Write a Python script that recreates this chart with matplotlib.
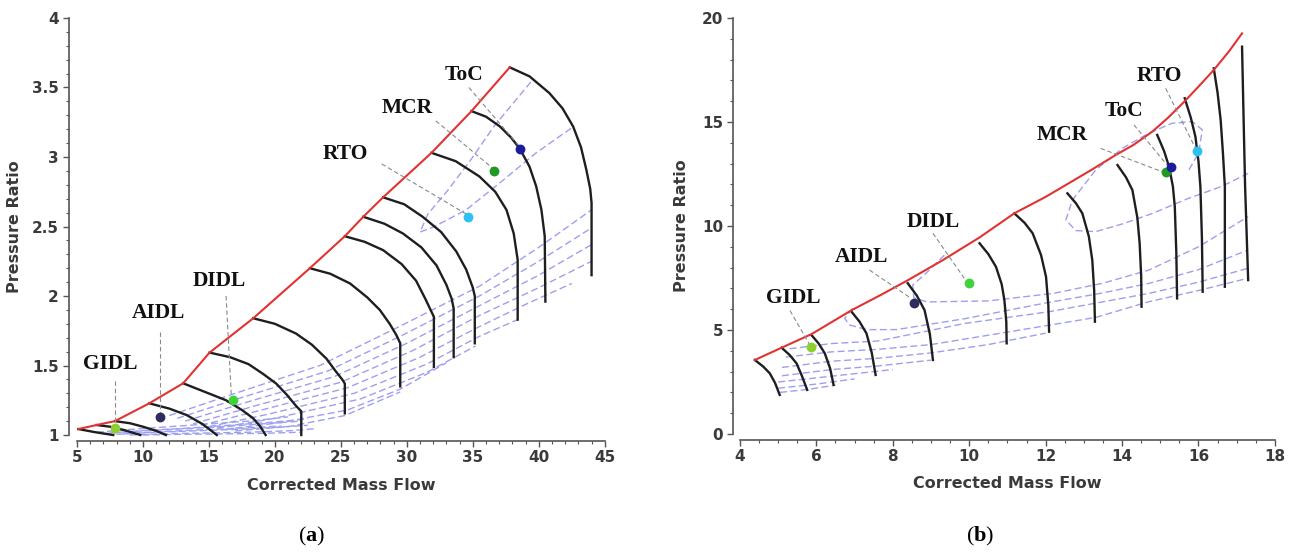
import matplotlib.pyplot as plt
from matplotlib.ticker import MultipleLocator

plt.rcParams['font.family'] = 'DejaVu Sans'
plt.rcParams['mathtext.fontset'] = 'custom'
plt.rcParams['mathtext.rm'] = 'Liberation Serif'
plt.rcParams['mathtext.bf'] = 'Liberation Serif:bold'

# ---------------- panel (a) ----------------
a_surge_x = [5.1, 6.49, 7.88, 10.48, 13.05, 15.05, 18.36, 22.65, 25.3, 26.7, 28.2, 31.87, 34.9, 37.8]
a_surge_y = [1.043, 1.072, 1.10, 1.228, 1.372, 1.593, 1.84, 2.20, 2.43, 2.57, 2.71, 3.03, 3.33, 3.645]

a_speed_x = [
    [5.1, 6.4, 7.75],
    [6.49, 7.5, 8.6, 9.8],
    [7.88, 9.0, 10.0, 11.0, 11.74],
    [10.48, 12.0, 13.3, 14.5, 15.6],
    [13.05, 14.7, 16.3, 17.5, 18.36, 18.9, 19.3],
    [15.05, 16.6, 18.0, 19.1, 20.1, 20.9, 21.6, 22.0, 22.0],
    [18.36, 20.0, 21.6, 22.8, 23.9, 24.6, 25.1, 25.3, 25.3],
    [22.65, 24.2, 25.7, 27.0, 27.95, 28.7, 29.2, 29.5, 29.5],
    [25.3, 26.8, 28.2, 29.6, 30.7, 31.4, 31.9, 32.05, 32.05],
    [26.7, 28.3, 29.7, 31.1, 32.25, 33.0, 33.4, 33.55, 33.55],
    [28.2, 29.8, 31.2, 32.6, 33.75, 34.5, 35.0, 35.15, 35.15],
    [31.87, 33.7, 35.5, 36.7, 37.55, 38.1, 38.4, 38.4],
    [34.9, 36.0, 37.05, 37.9, 38.56, 39.3, 39.8, 40.2, 40.45, 40.5],
    [37.8, 39.3, 40.8, 41.8, 42.6, 43.2, 43.6, 43.9, 44.0, 44.0],
]
a_speed_y = [
    [1.043, 1.02, 1.0],
    [1.072, 1.06, 1.035, 1.0],
    [1.10, 1.085, 1.06, 1.03, 1.0],
    [1.228, 1.19, 1.144, 1.08, 1.0],
    [1.372, 1.31, 1.25, 1.18, 1.12, 1.06, 1.0],
    [1.593, 1.56, 1.51, 1.44, 1.37, 1.29, 1.21, 1.17, 1.0],
    [1.84, 1.80, 1.73, 1.65, 1.55, 1.46, 1.40, 1.37, 1.156],
    [2.20, 2.16, 2.09, 1.99, 1.90, 1.80, 1.72, 1.66, 1.35],
    [2.43, 2.39, 2.33, 2.23, 2.11, 1.98, 1.88, 1.85, 1.49],
    [2.57, 2.52, 2.45, 2.35, 2.22, 2.08, 1.98, 1.91, 1.56],
    [2.71, 2.66, 2.57, 2.46, 2.32, 2.19, 2.06, 2.0, 1.66],
    [3.03, 2.97, 2.86, 2.75, 2.62, 2.45, 2.26, 1.83],
    [3.33, 3.29, 3.22, 3.14, 3.06, 2.93, 2.79, 2.62, 2.43, 1.96],
    [3.645, 3.58, 3.46, 3.35, 3.22, 3.07, 2.91, 2.77, 2.67, 2.15],
]

a_eff_x = [
    [39.4, 36.6, 34.85, 33.1, 31.6, 31.0, 32.1, 34.5, 37.0, 39.8, 42.5],
    [12.0, 17.0, 23.4, 29.0, 35.5, 40.0, 44.0],
    [12.6, 17.5, 24.0, 29.5, 35.5, 40.0, 44.0],
    [13.2, 18.0, 24.5, 30.0, 35.5, 40.0, 44.0],
    [13.8, 18.5, 25.0, 30.5, 35.5, 40.0, 44.0],
    [14.4, 19.0, 25.5, 31.0, 35.5, 39.0, 42.5],
    [15.0, 19.5, 26.0, 31.5, 35.5, 38.4],
    [15.6, 20.0, 26.5, 31.5, 35.2],
    [16.2, 20.5, 25.5, 29.5, 33.0],
    [17.0, 21.0, 25.3, 29.5],
    [6.5, 9.0, 12.0, 15.0, 18.0, 21.0],
    [7.0, 10.0, 13.0, 16.0, 19.0, 22.0],
    [8.0, 11.0, 14.0, 17.0, 20.0, 22.5],
    [9.0, 12.0, 15.0, 18.0, 21.0, 23.0],
    [10.0, 13.0, 16.0, 19.0, 22.0],
    [7.5, 10.5, 13.5, 16.5, 19.5, 22.5],
    [8.5, 11.5, 14.5, 17.5, 20.5],
]
a_eff_y = [
    [3.54, 3.22, 2.98, 2.76, 2.59, 2.46, 2.50, 2.62, 2.81, 3.03, 3.21],
    [1.14, 1.30, 1.50, 1.76, 2.07, 2.35, 2.62],
    [1.12, 1.27, 1.46, 1.71, 2.00, 2.25, 2.49],
    [1.10, 1.24, 1.42, 1.66, 1.93, 2.15, 2.37],
    [1.08, 1.21, 1.38, 1.61, 1.86, 2.06, 2.25],
    [1.07, 1.18, 1.34, 1.56, 1.78, 1.94, 2.09],
    [1.06, 1.15, 1.30, 1.51, 1.71, 1.83],
    [1.05, 1.12, 1.26, 1.45, 1.64],
    [1.04, 1.09, 1.18, 1.33, 1.52],
    [1.03, 1.06, 1.14, 1.31],
    [1.02, 1.04, 1.06, 1.08, 1.10, 1.13],
    [1.01, 1.03, 1.045, 1.06, 1.08, 1.10],
    [1.005, 1.02, 1.03, 1.04, 1.055, 1.07],
    [1.0, 1.01, 1.015, 1.02, 1.03, 1.045],
    [1.0, 1.005, 1.008, 1.012, 1.02],
    [1.015, 1.035, 1.05, 1.07, 1.09, 1.115],
    [1.008, 1.025, 1.038, 1.05, 1.065],
]

a_pt_name = ['GIDL', 'AIDL', 'DIDL', 'RTO', 'MCR', 'ToC']
a_pt_x = [7.88, 11.3, 16.8, 34.65, 36.6, 38.56]
a_pt_y = [1.053, 1.127, 1.25, 2.57, 2.90, 3.055]
a_lab_x = [7.5, 11.16, 15.75, 25.37, 30.04, 34.33]
a_lab_y = [1.51, 1.88, 2.11, 3.02, 3.35, 3.59]
a_lead_x0 = [7.88, 11.3, 16.3, 28.1, 32.2, 34.7]
a_lead_y0 = [1.39, 1.74, 2.0, 2.95, 3.26, 3.50]
a_lead_x1 = [7.88, 11.3, 16.7, 34.5, 36.5, 38.5]
a_lead_y1 = [1.07, 1.15, 1.28, 2.59, 2.92, 3.08]

a_xticks = [5, 10, 15, 20, 25, 30, 35, 40, 45]
a_yticks = [1, 1.5, 2, 2.5, 3, 3.5, 4]
a_ylabels = ['1', '1.5', '2', '2.5', '3', '3.5', '4']

# ---------------- panel (b) ----------------
b_surge_x = [4.39, 5.09, 5.87, 6.92, 7.7, 8.40, 9.3, 10.27, 11.18, 12.0, 12.6, 13.2, 13.83,
             14.3, 14.8, 15.2, 15.64, 16.0, 16.40, 16.8, 17.14]
b_surge_y = [3.56, 4.15, 4.80, 5.95, 6.7, 7.40, 8.35, 9.45, 10.61, 11.4, 12.05, 12.7, 13.41,
             13.9, 14.55, 15.2, 16.0, 16.7, 17.5, 18.4, 19.26]

b_speed_x = [
    [4.39, 4.61, 4.78, 4.92, 5.04],
    [5.09, 5.30, 5.48, 5.62, 5.76],
    [5.87, 6.06, 6.22, 6.36, 6.45],
    [6.92, 7.13, 7.31, 7.45, 7.55],
    [8.39, 8.63, 8.83, 8.97, 9.05],
    [10.27, 10.50, 10.70, 10.85, 10.92, 10.97, 10.98],
    [11.18, 11.45, 11.66, 11.88, 12.01, 12.07, 12.09],
    [12.57, 12.79, 12.96, 13.13, 13.22, 13.27, 13.29],
    [13.88, 14.10, 14.27, 14.40, 14.46, 14.50, 14.51],
    [14.92, 15.10, 15.23, 15.33, 15.38, 15.42, 15.44],
    [15.64, 15.80, 15.92, 16.0, 16.05, 16.09, 16.11],
    [16.40, 16.50, 16.58, 16.64, 16.69, 16.69],
    [17.14, 17.18, 17.22, 17.30],
]
b_speed_y = [
    [3.56, 3.24, 2.92, 2.45, 1.88],
    [4.15, 3.80, 3.40, 2.80, 2.12],
    [4.76, 4.35, 3.88, 3.15, 2.36],
    [5.88, 5.40, 4.84, 3.90, 2.84],
    [7.25, 6.65, 5.96, 4.80, 3.56],
    [9.17, 8.65, 8.04, 7.2, 6.44, 5.4, 4.36],
    [10.61, 10.15, 9.65, 8.6, 7.56, 6.2, 4.92],
    [11.57, 11.1, 10.61, 9.5, 8.37, 6.9, 5.40],
    [12.93, 12.35, 11.73, 10.4, 9.17, 7.6, 6.12],
    [14.38, 13.6, 12.85, 11.9, 10.93, 8.7, 6.52],
    [16.14, 15.2, 14.29, 13.1, 11.89, 9.4, 6.84],
    [17.58, 16.4, 15.1, 13.5, 11.9, 7.08],
    [18.62, 15.2, 11.89, 7.40],
]

b_eff_x = [
    [15.75, 16.0, 16.10, 15.84, 15.31, 14.70, 14.01, 13.31, 12.70, 12.53, 12.79, 13.31, 14.01, 14.79, 15.7, 16.6, 17.3],
    [9.35, 8.87, 8.52, 8.55, 8.9, 10.5, 12.2, 13.5, 14.7, 16.0, 17.3],
    [6.95, 6.74, 6.87, 7.31, 8.1, 9.9, 12.0, 13.4, 14.7, 16.0, 17.3],
    [5.3, 6.4, 7.6, 9.9, 12.09, 14.7, 16.0, 17.3],
    [5.2, 6.4, 7.6, 9.0, 11.0, 13.3, 14.7, 16.0, 17.3],
    [5.1, 6.4, 7.6, 9.0, 10.5, 12.0],
    [5.1, 6.4, 7.6, 9.0],
    [5.0, 6.0, 7.0, 8.0],
    [5.0, 6.0, 7.0],
    [5.05, 5.8, 6.5],
]
b_eff_y = [
    [12.7, 13.5, 14.62, 15.02, 14.94, 14.46, 13.74, 12.69, 11.25, 10.29, 9.78, 9.73, 10.10, 10.6, 11.3, 11.9, 12.53],
    [8.6, 7.73, 7.16, 6.55, 6.35, 6.4, 6.76, 7.25, 7.88, 9.0, 10.45],
    [6.05, 5.56, 5.24, 5.02, 5.02, 5.55, 6.3, 6.75, 7.24, 7.9, 8.85],
    [4.1, 4.35, 4.47, 5.32, 5.88, 6.76, 7.3, 7.97],
    [3.7, 3.95, 4.07, 4.3, 4.9, 5.6, 6.36, 6.9, 7.49],
    [3.2, 3.5, 3.64, 3.9, 4.3, 4.85],
    [2.8, 3.1, 3.27, 3.55],
    [2.5, 2.7, 2.9, 3.1],
    [2.2, 2.4, 2.65],
    [2.0, 2.15, 2.35],
]

b_pt_name = ['GIDL', 'AIDL', 'DIDL', 'MCR', 'ToC', 'RTO']
b_pt_x = [5.87, 8.55, 9.99, 15.14, 15.27, 15.97]
b_pt_y = [4.17, 6.31, 7.25, 12.61, 12.85, 13.62]
b_lab_x = [5.39, 7.17, 9.06, 12.44, 14.05, 14.97]
b_lab_y = [6.52, 8.52, 10.2, 14.38, 15.55, 17.21]
b_lead_x0 = [5.31, 7.39, 9.05, 13.44, 14.31, 15.14]
b_lead_y0 = [5.93, 7.88, 9.65, 13.73, 14.86, 16.62]
b_lead_x1 = [5.83, 8.48, 9.87, 15.05, 15.18, 15.92]
b_lead_y1 = [4.28, 6.52, 7.49, 12.61, 12.93, 13.74]

b_xticks = [4, 6, 8, 10, 12, 14, 16, 18]
b_yticks = [0, 5, 10, 15, 20]
b_ylabels = ['0', '5', '10', '15', '20']

pt_colors = {'GIDL': '#8ccf2e', 'AIDL': '#2d2c5e', 'DIDL': '#3fd23f',
             'RTO': '#2fc0f2', 'MCR': '#1e9a22', 'ToC': '#1b1ba0'}

fig = plt.figure(figsize=(13, 5.57), dpi=100)
ax1 = fig.add_axes([0.0592, 0.219, 0.406, 0.7487])
ax2 = fig.add_axes([0.5692, 0.2208, 0.4115, 0.7469])

eff_col = '#9ca0ee'
axis_col = '#555555'
txt_col = '#3a3a3a'


def draw_map(ax, sx, sy, spx, spy, ex, ey, names, px, py, lx, ly, l0x, l0y, l1x, l1y):
    for xs, ys in zip(ex, ey):
        ax.plot(xs, ys, color=eff_col, lw=1.0, ls=(0, (5, 2.5)), clip_on=False, zorder=1)
    for xs, ys in zip(spx, spy):
        ax.plot(xs, ys, color='#1e1e1e', lw=1.7, clip_on=False, zorder=2,
                solid_joinstyle='round')
    ax.plot(sx, sy, color='#e23232', lw=1.5, clip_on=False, zorder=3)
    for i, n in enumerate(names):
        ax.plot([l0x[i], l1x[i]], [l0y[i], l1y[i]], color='#8a8a8a', lw=0.8,
                ls=(0, (4, 2.5)), clip_on=False, zorder=4)
        ax.scatter(px[i], py[i], s=50, color=pt_colors[n], zorder=5, clip_on=False, linewidths=0)
        ax.text(lx[i], ly[i], n, ha='center', va='center', fontsize=15.5,
                family='Liberation Serif', fontweight='bold', color='#111111', zorder=6)


draw_map(ax1, a_surge_x, a_surge_y, a_speed_x, a_speed_y, a_eff_x, a_eff_y,
         a_pt_name, a_pt_x, a_pt_y, a_lab_x, a_lab_y, a_lead_x0, a_lead_y0, a_lead_x1, a_lead_y1)
draw_map(ax2, b_surge_x, b_surge_y, b_speed_x, b_speed_y, b_eff_x, b_eff_y,
         b_pt_name, b_pt_x, b_pt_y, b_lab_x, b_lab_y, b_lead_x0, b_lead_y0, b_lead_x1, b_lead_y1)

ax1.set_xlim(5, 45)
ax1.set_ylim(1, 4)
ax1.set_xticks(a_xticks)
ax1.set_yticks(a_yticks)
ax1.set_yticklabels(a_ylabels)
ax1.xaxis.set_minor_locator(MultipleLocator(1))
ax1.yaxis.set_minor_locator(MultipleLocator(0.1))
ax1.spines['left'].set_position(('outward', 6))
ax1.spines['bottom'].set_position(('outward', 4))
ax1.yaxis.set_label_coords(-0.105, 0.5)
ax1.xaxis.set_label_coords(0.5, -0.103)

ax2.set_xlim(4, 18)
ax2.set_ylim(0, 20)
ax2.set_xticks(b_xticks)
ax2.set_yticks(b_yticks)
ax2.set_yticklabels(b_ylabels)
ax2.xaxis.set_minor_locator(MultipleLocator(0.5))
ax2.yaxis.set_minor_locator(MultipleLocator(1))
ax2.spines['left'].set_position(('outward', 5))
ax2.spines['bottom'].set_position(('outward', 4))
ax2.yaxis.set_label_coords(-0.095, 0.5)
ax2.xaxis.set_label_coords(0.5, -0.102)

for ax in (ax1, ax2):
    ax.spines['top'].set_visible(False)
    ax.spines['right'].set_visible(False)
    for s in ('left', 'bottom'):
        ax.spines[s].set_color(axis_col)
        ax.spines[s].set_linewidth(1.2)
    ax.tick_params(which='major', length=4, width=1, color=axis_col, labelsize=11, labelcolor=txt_col, pad=3)
    ax.tick_params(which='minor', length=2.5, width=0.8, color=axis_col)
    for lab in ax.get_xticklabels() + ax.get_yticklabels():
        lab.set_fontweight('bold')
    ax.set_xlabel('Corrected Mass Flow', fontsize=11.5, color=txt_col, fontweight='bold')
    ax.set_ylabel('Pressure Ratio', fontsize=11.5, color=txt_col, fontweight='bold')
    ax.patch.set_visible(False)

fig.text(312 / 1300, 1 - 536 / 557, r'($\mathbf{a}$)', ha='center', va='center',
         fontsize=16, family='Liberation Serif')
fig.text(980 / 1300, 1 - 536 / 557, r'($\mathbf{b}$)', ha='center', va='center',
         fontsize=16, family='Liberation Serif')

fig.savefig('out.png', dpi=100)
